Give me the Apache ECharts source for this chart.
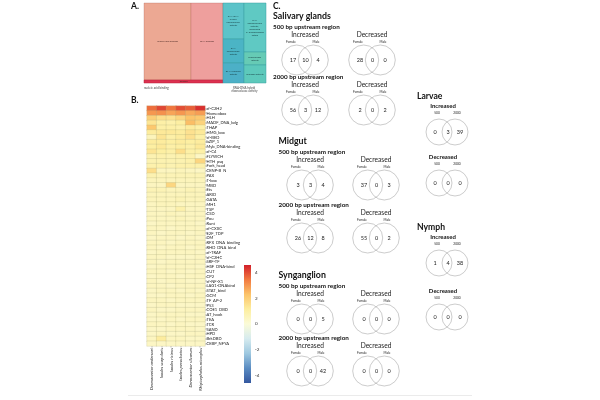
<!DOCTYPE html>
<html>
<head>
<meta charset="utf-8">
<script src="https://cdn.jsdelivr.net/npm/echarts/dist/echarts.min.js"></script>
<style>
html,body{margin:0;padding:0;background:#ffffff;}
#chart{width:600px;height:400px;}
</style>
</head>
<body>
<div id="chart"></div>
<script>
// ---------------- Panel A : GO treemap ----------------
const goTerms = ['nucleic acid binding', 'DNA binding', 'binding',
  'RNA-DNA hybrid ribonuclease activity', 'RNA exonuclease activity', 'DNA nuclease activity',
  "RNA endonuclease activity, producing 5'-phosphomonoesters", 'exonuclease activity', 'nuclease activity'];
const goValues = [3619, 2464, 237, 756, 504, 420, 1078, 286, 396];
const goClusterNames = ['nucleic acid binding', 'RNA-DNA hybrid ribonuclease activity'];

// ---------------- Panel B : TF family heatmap ----------------
const tfFamilies = ['zf-C2H2','Homeobox','HLH','MADF_DNA_bdg','THAP','HMG_box','zf-BED','bZIP_1','Myb_DNA-binding','zf-C4',
  'FLYWCH','HTH_psq','Fork_head','CENP-B_N','PAX','T-box','MBD','Ets','ARID','GATA',
  'MH1','TSP','CSD','Pou','Runt','zf-CXXC','E2F_TDP','DM','RFX_DNA_binding','RHD_DNA_bind',
  'zf-TRAF','zf-C2HC','SRF-TF','HSF_DNA-bind','CUT','CP2','zf-NF-X1','LAG1-DNAbind','STAT_bind','GCM',
  'TF_AP-2','P53','COE1_DBD','AT_hook','TEA','TCR','SAND','HPD','BrkDBD','CEBP_NFYA'];
const species = ['Dermacentor andersoni', 'Ixodes scapularis', 'Ixodes ricinus', 'Ixodes persulcatus', 'Dermacentor silvarum', 'Rhipicephalus microplus'];
const hmSpecies1 = [3.6,3.0,2.0,1.4,2.2,1.2,0.6,1.2,1.1,1.4, 0.8,0.8,0.9,1.6,0.8,0.6,0.5,0.7,0.6,0.6, 0.5,0.5,0.5,0.5,0.4,0.5,0.5,0.4,0.5,0.5, 0.4,0.5,0.5,0.4,0.5,0.4,0.5,0.5,0.4,0.4, 0.5,0.4,0.5,0.4,0.4,0.5,0.4,0.4,0.5,0.4];
const hmSpecies2 = [4.1,3.1,1.6,1.0,1.0,1.3,1.4,1.2,1.3,1.1, 0.9,0.8,0.9,0.5,0.7,0.6,0.5,0.7,0.6,0.6, 0.6,0.5,0.5,0.5,0.5,0.5,0.4,0.5,0.5,0.4, 0.5,0.5,0.4,0.5,0.5,0.5,0.4,0.5,0.5,0.4, 0.5,0.5,0.4,0.5,0.4,0.5,0.4,0.5,1.2,0.4];
const hmSpecies3 = [3.5,2.8,1.5,0.9,1.0,1.3,1.0,1.1,1.0,1.0, 0.8,0.8,0.8,0.5,0.7,0.6,1.8,0.6,0.6,0.6, 0.6,0.5,0.6,0.5,0.5,0.4,0.5,0.5,0.4,0.5, 0.5,0.4,0.5,0.5,0.4,0.5,0.5,0.4,0.5,0.5, 0.4,0.5,0.4,0.5,0.5,0.4,0.5,0.4,0.5,0.4];
const hmSpecies4 = [4.0,3.0,1.8,1.1,0.9,1.2,1.2,1.2,1.1,1.6, 0.9,0.8,0.9,0.6,0.7,0.6,0.5,0.6,0.6,0.7, 0.5,0.9,0.5,0.6,0.5,0.5,0.5,0.4,0.5,0.5, 0.5,0.4,0.5,0.5,0.5,0.4,0.5,0.5,0.4,0.5, 0.5,0.4,0.5,0.5,0.4,0.5,0.5,0.4,0.5,0.4];
const hmSpecies5 = [3.8,2.7,2.3,2.4,1.2,1.5,1.5,1.1,1.0,1.0, 0.9,0.9,0.9,0.5,0.7,0.6,0.5,0.7,0.6,0.6, 0.5,0.5,0.5,0.5,0.5,0.5,0.4,0.5,0.5,0.4, 0.5,0.4,0.5,0.5,0.4,0.5,0.4,0.5,0.5,0.4, 0.5,0.4,0.5,0.4,0.5,0.4,0.5,0.5,0.4,0.4];
const hmSpecies6 = [4.4,2.9,2.2,1.9,1.0,1.3,1.0,1.2,1.3,1.0, 0.4,1.8,0.9,0.4,0.7,0.6,0.5,0.6,0.6,0.6, 0.5,0.5,0.5,0.5,0.4,0.5,0.5,0.4,0.5,0.5, 0.4,0.5,0.5,0.4,0.5,0.5,0.4,0.5,0.4,0.5, 0.5,0.4,0.5,0.4,0.5,0.4,0.4,0.5,0.4,0.4];
const colorbarLimits = [-4.6, 4.6];

// ---------------- Panel C : Venn counts ----------------
const tissueNames = ['Salivary glands', 'Midgut', 'Synganglion'];
const vennRegions = ['500 bp upstream region', '2000 bp upstream region'];
const vennDirections = ['Increased', 'Decreased'];
const sexLabels = ['Female', 'Male'];
// [region][direction] = [female only, shared, male only]
const salivaryCounts = [[[17, 10, 4], [28, 0, 0]], [[56, 3, 12], [2, 0, 2]]];
const midgutCounts = [[[3, 3, 4], [37, 0, 3]], [[26, 12, 8], [55, 0, 2]]];
const synganglionCounts = [[[0, 0, 5], [0, 0, 0]], [[0, 0, 42], [0, 0, 0]]];
const stageNames = ['Larvae', 'Nymph'];
const stageRegions = ['500', '2000'];
// [direction] = [500 only, shared, 2000 only]
const larvaeCounts = [[0, 3, 39], [0, 0, 0]];
const nymphCounts = [[1, 4, 38], [0, 0, 0]];

// ================= styles =================
const FONT = 'Lato, "Open Sans", "DejaVu Sans", sans-serif';
const goColors = ['#eca893', '#ee9f9d', '#dc3150', '#5cc3c9', '#4bb4c5', '#4cb0c7', '#5fc9c3', '#66cbb5', '#5dc9bb'];
const cmap = ['#34589f', '#5a8cc2', '#9ec8e0', '#d6ebef', '#fbfbd8', '#fdeea0', '#fcc46a', '#f27a40', '#d21f2a'];

// ---- treemap layout (slice and dice from the values) ----
function leaf(i) { return { idx: i, value: goValues[i] }; }
function node(children, extra) {
  const n = Object.assign({ children: children }, extra || {});
  n.value = children.reduce(function (s, c) { return s + c.value; }, 0);
  return n;
}
const goTree = node([
  node([node([leaf(0), leaf(1)]), leaf(2)], { cluster: 0 }),
  node([node([node([leaf(3), leaf(4), leaf(5)]), node([leaf(6), leaf(7), leaf(8)])])], { cluster: 1 })
]);
const goLeaves = [], goClusters = [];
function sliceDice(n, x0, y0, x1, y1, depth) {
  if (n.cluster !== undefined) goClusters.push([n.cluster, x0, y0, x1, y1]);
  if (!n.children) { goLeaves.push([n.idx, x0, y0, x1, y1]); return; }
  let pos = depth % 2 === 0 ? x0 : y0;
  n.children.forEach(function (c) {
    const f = c.value / n.value;
    if (depth % 2 === 0) { const nx = pos + (x1 - x0) * f; sliceDice(c, pos, y0, nx, y1, depth + 1); pos = nx; }
    else { const ny = pos + (y1 - y0) * f; sliceDice(c, x0, pos, x1, ny, depth + 1); pos = ny; }
  });
}
sliceDice(goTree, 0, 0, 1, 1, 0);

// ---- heatmap data ----
const hmColumns = [hmSpecies1, hmSpecies2, hmSpecies3, hmSpecies4, hmSpecies5, hmSpecies6];
const hmData = [];
hmColumns.forEach(function (col, i) { col.forEach(function (v, j) { hmData.push([i, j, v]); }); });

// ---- venn data ----
function tissueData(counts) {
  const d = [];
  counts.forEach(function (regRow, r) { regRow.forEach(function (c, k) { d.push([k, r, c[0], c[1], c[2]]); }); });
  return d;
}
function stageData(counts) { return counts.map(function (c, k) { return [0, k, c[0], c[1], c[2]]; }); }

function txt(x, y, text, size, opt) {
  opt = opt || {};
  return { type: 'text', x: x, y: y, silent: true, style: {
    text: String(text), fontSize: size, fontFamily: FONT, fontWeight: opt.weight || 'normal',
    fill: opt.color || '#222', align: opt.align || 'center', verticalAlign: 'middle' } };
}
function circ(cx, cy, r) {
  return { type: 'circle', silent: true, shape: { cx: cx, cy: cy, r: r }, style: { fill: 'none', stroke: '#a9a9a9', lineWidth: 0.6 } };
}
function tissueRender(tIdx) {
  return function (params, api) {
    const dir = api.value(0), reg = api.value(1);
    const p = api.coord([dir, reg]);
    const cx = p[0], cy = p[1];
    const els = [
      circ(cx - 8.3, cy, 15), circ(cx + 8.3, cy, 15),
      txt(cx - 12, cy, api.value(2), 5.5), txt(cx + 0.5, cy, api.value(3), 5.5), txt(cx + 13, cy, api.value(4), 5.5),
      txt(cx, cy - 25, vennDirections[dir], 6.6),
      txt(cx - 14, cy - 18, sexLabels[0], 3.2), txt(cx + 11, cy - 18, sexLabels[1], 3.2)
    ];
    if (dir === 0) {
      els.push(txt(params.coordSys.x + 1.5, cy - 33, vennRegions[reg], 6.3, { weight: 'bold', align: 'left', color: '#111' }));
      if (reg === 0) els.push(txt(params.coordSys.x + 1.5, cy - 43.5, tissueNames[tIdx], 8.8, { weight: 'bold', align: 'left', color: '#111' }));
    }
    return { type: 'group', children: els };
  };
}
function stageRender(sIdx) {
  return function (params, api) {
    const dir = api.value(1);
    const p = api.coord([0, dir]);
    const cx = p[0], cy = p[1];
    const els = [
      circ(cx - 8, cy, 13), circ(cx + 8, cy, 13),
      txt(cx - 12, cy, api.value(2), 5.5), txt(cx + 1, cy, api.value(3), 5.5), txt(cx + 13, cy, api.value(4), 5.5),
      txt(cx - 4, cy - 26, vennDirections[dir], 6, { weight: 'bold', color: '#111' }),
      txt(cx - 10, cy - 19.5, stageRegions[0], 3.2), txt(cx + 10, cy - 19.5, stageRegions[1], 3.2)
    ];
    if (dir === 0) els.push(txt(cx - 30, cy - 36, stageNames[sIdx], 8.6, { weight: 'bold', align: 'left', color: '#111' }));
    return { type: 'group', children: els };
  };
}

function treemapRender(params, api) {
  const i = api.value(0);
  const a = api.coord([api.value(1), api.value(2)]);
  const b = api.coord([api.value(3), api.value(4)]);
  const x = Math.min(a[0], b[0]), y = Math.min(a[1], b[1]);
  const w = Math.abs(b[0] - a[0]), h = Math.abs(b[1] - a[1]);
  const teal = i >= 3;
  return { type: 'group', children: [
    { type: 'rect', shape: { x: x, y: y, width: w, height: h },
      style: { fill: goColors[i], stroke: teal ? '#3a9ca3' : (i === 2 ? '#b82038' : 'rgba(170,90,80,0.55)'), lineWidth: 0.5 } },
    { type: 'text', x: x + w / 2, y: y + h / 2, silent: true,
      style: { text: goTerms[i], width: Math.max(w - 3, 6), overflow: 'break', align: 'center', verticalAlign: 'middle',
        fontSize: 2.4, lineHeight: 2.9, fontFamily: FONT, fill: teal ? '#163c40' : '#4a2a26' } }
  ] };
}
function clusterCaptionRender(params, api) {
  const k = api.value(0);
  const a = api.coord([api.value(1), api.value(2)]);
  const b = api.coord([api.value(3), api.value(4)]);
  const left = k === 0;
  return { type: 'text', x: left ? a[0] : (a[0] + b[0]) / 2, y: b[1] + 3, silent: true,
    style: { text: goClusterNames[k], width: left ? 80 : 34, overflow: 'break', align: left ? 'left' : 'center',
      verticalAlign: 'top', fontSize: 2.9, lineHeight: 3.4, fontFamily: FONT, fill: '#444' } };
}

const posStops = [8, 7, 6, 5, 4].map(function (c, k) { return { offset: k / 4, color: cmap[c] }; });
const negStops = [4, 3, 2, 1, 0].map(function (c, k) { return { offset: k / 4, color: cmap[c] }; });

const hidden = { show: false };
function catAxis(gi, data, inverse) { return { type: 'category', gridIndex: gi, data: data, inverse: !!inverse, show: false }; }

const option = {
  animation: false,
  backgroundColor: '#ffffff',
  grid: [
    { left: 144, top: 3, width: 122, height: 80, outerBoundsMode: 'none' },
    { left: 147, top: 106, width: 58, height: 240, outerBoundsMode: 'none' },
    { left: 244, top: 265, width: 7, height: 118, outerBoundsMode: 'none' },
    { left: 271.5, top: 35, width: 134, height: 100, outerBoundsMode: 'none' },
    { left: 277, top: 158.5, width: 132, height: 106, outerBoundsMode: 'none' },
    { left: 277, top: 293, width: 132, height: 104, outerBoundsMode: 'none' },
    { left: 431, top: 106.5, width: 32, height: 102, outerBoundsMode: 'none' },
    { left: 431, top: 236, width: 32, height: 108, outerBoundsMode: 'none' }
  ],
  xAxis: [
    { type: 'value', gridIndex: 0, min: 0, max: 1, show: false },
    { type: 'category', gridIndex: 1, data: species, position: 'bottom',
      axisLine: hidden, axisTick: { show: true, length: 1.5, alignWithLabel: true, lineStyle: { color: '#444', width: 0.4 } },
      axisLabel: { rotate: 90, fontSize: 4.3, fontStyle: 'italic', fontFamily: FONT, color: '#222', margin: 2, interval: 0 } },
    { type: 'category', gridIndex: 2, data: [''], show: false },
    catAxis(3, vennDirections), catAxis(4, vennDirections), catAxis(5, vennDirections),
    catAxis(6, ['venn']), catAxis(7, ['venn'])
  ],
  yAxis: [
    { type: 'value', gridIndex: 0, min: 0, max: 1, inverse: true, show: false },
    { type: 'category', gridIndex: 1, data: tfFamilies, inverse: true, position: 'right',
      axisLine: hidden, axisTick: { show: true, length: 2, alignWithLabel: true, interval: 0, lineStyle: { color: '#333', width: 0.4 } },
      axisLabel: { fontSize: 4.1, fontFamily: FONT, color: '#222', margin: 1.5, interval: 0 } },
    { type: 'value', gridIndex: 2, min: colorbarLimits[0], max: colorbarLimits[1], position: 'right',
      axisLine: hidden, axisTick: hidden, splitLine: hidden,
      axisLabel: { fontSize: 4.6, fontFamily: FONT, color: '#333', margin: 4, showMinLabel: false, showMaxLabel: false } },
    catAxis(3, vennRegions, true), catAxis(4, vennRegions, true), catAxis(5, vennRegions, true),
    catAxis(6, vennDirections, true), catAxis(7, vennDirections, true)
  ],
  visualMap: {
    type: 'continuous', show: false, seriesIndex: 2, dimension: 2,
    min: colorbarLimits[0], max: colorbarLimits[1], inRange: { color: cmap }
  },
  series: [
    { type: 'custom', xAxisIndex: 0, yAxisIndex: 0, data: goLeaves, renderItem: treemapRender, encode: { x: [1, 3], y: [2, 4] }, silent: true },
    { type: 'custom', xAxisIndex: 0, yAxisIndex: 0, data: goClusters, renderItem: clusterCaptionRender, encode: { x: [1, 3], y: [2, 4] }, silent: true },
    { type: 'heatmap', xAxisIndex: 1, yAxisIndex: 1, data: hmData, silent: true,
      itemStyle: { borderColor: 'rgba(165,165,120,0.55)', borderWidth: 0.4 } },
    { type: 'bar', xAxisIndex: 2, yAxisIndex: 2, stack: 'cb', barWidth: '100%', silent: true,
      data: [colorbarLimits[1]], itemStyle: { color: new echarts.graphic.LinearGradient(0, 0, 0, 1, posStops) } },
    { type: 'bar', xAxisIndex: 2, yAxisIndex: 2, stack: 'cb', barWidth: '100%', silent: true,
      data: [colorbarLimits[0]], itemStyle: { color: new echarts.graphic.LinearGradient(0, 0, 0, 1, negStops) } },
    { type: 'custom', xAxisIndex: 3, yAxisIndex: 3, data: tissueData(salivaryCounts), renderItem: tissueRender(0), encode: { x: 0, y: 1 }, silent: true },
    { type: 'custom', xAxisIndex: 4, yAxisIndex: 4, data: tissueData(midgutCounts), renderItem: tissueRender(1), encode: { x: 0, y: 1 }, silent: true },
    { type: 'custom', xAxisIndex: 5, yAxisIndex: 5, data: tissueData(synganglionCounts), renderItem: tissueRender(2), encode: { x: 0, y: 1 }, silent: true },
    { type: 'custom', xAxisIndex: 6, yAxisIndex: 6, data: stageData(larvaeCounts), renderItem: stageRender(0), encode: { x: 0, y: 1 }, silent: true },
    { type: 'custom', xAxisIndex: 7, yAxisIndex: 7, data: stageData(nymphCounts), renderItem: stageRender(1), encode: { x: 0, y: 1 }, silent: true }
  ],
  graphic: [
    { type: 'text', left: 131, top: 2, style: { text: 'A.', fontSize: 8.5, fontWeight: 'bold', fontFamily: FONT, fill: '#111' } },
    { type: 'text', left: 131, top: 96, style: { text: 'B.', fontSize: 8.5, fontWeight: 'bold', fontFamily: FONT, fill: '#111' } },
    { type: 'text', left: 273, top: 2, style: { text: 'C.', fontSize: 8.5, fontWeight: 'bold', fontFamily: FONT, fill: '#111' } },
    { type: 'line', shape: { x1: 128, y1: 395.5, x2: 472, y2: 395.5 }, style: { stroke: '#e6e6e6', lineWidth: 0.8 } }
  ]
};

const chart = echarts.init(document.getElementById('chart'));
chart.setOption(option);
</script>
</body>
</html>
